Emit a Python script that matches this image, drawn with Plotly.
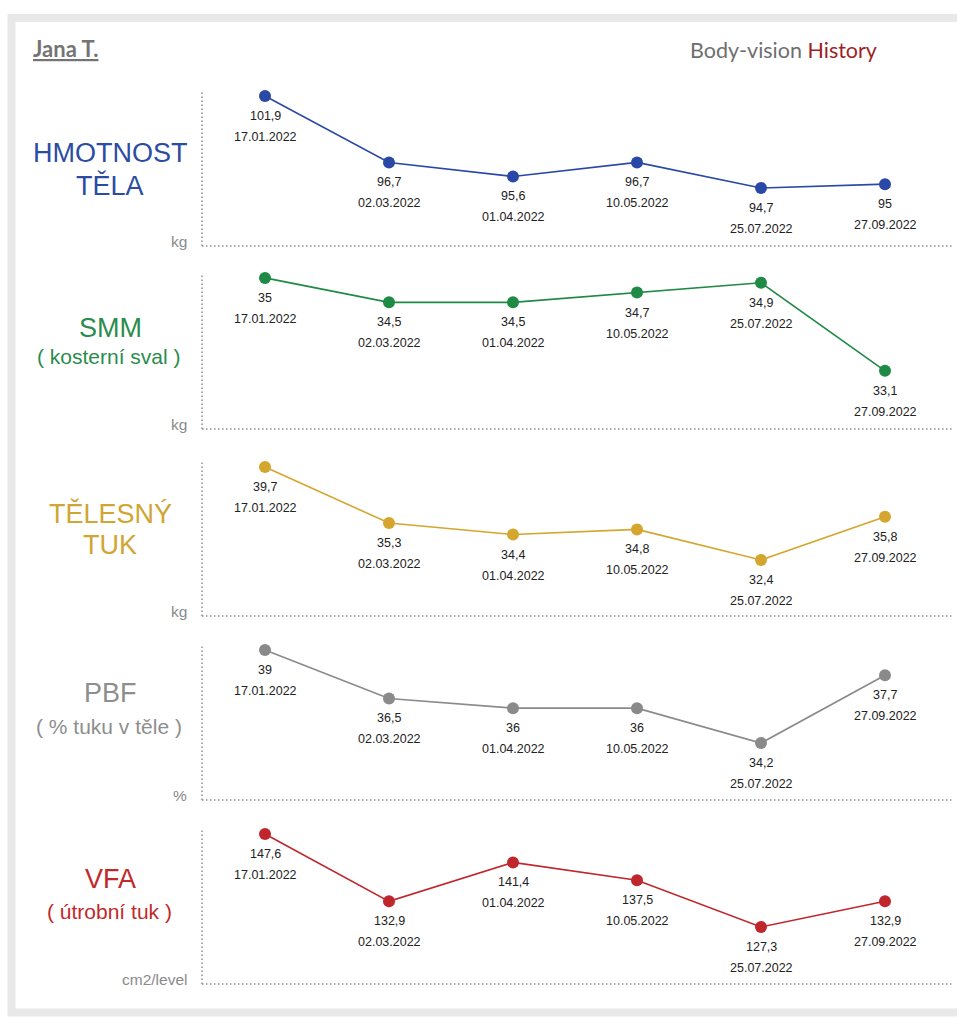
import plotly.graph_objects as go

W, H = 957, 1024

dates = ["17.01.2022", "02.03.2022", "01.04.2022", "10.05.2022", "25.07.2022", "27.09.2022"]
weight = [101.9, 96.7, 95.6, 96.7, 94.7, 95.0]
smm = [35.0, 34.5, 34.5, 34.7, 34.9, 33.1]
body_fat = [39.7, 35.3, 34.4, 34.8, 32.4, 35.8]
pbf = [39.0, 36.5, 36.0, 36.0, 34.2, 37.7]
vfa = [147.6, 132.9, 141.4, 137.5, 127.3, 132.9]

titles = [["HMOTNOST", "TĚLA"], ["SMM"], ["TĚLESNÝ", "TUK"], ["PBF"], ["VFA"]]
subtitles = [None, "( kosterní sval )", None, "( % tuku v těle )", "( útrobní tuk )"]
units = ["kg", "kg", "kg", "%", "cm2/level"]
series = [weight, smm, body_fat, pbf, vfa]

# styling per panel
panels = [
    dict(top=91, bottom=246, yr=[90.16, 102.29], color="#2a48a6", tcolor="#2c4ca3", tys=[153, 185]),
    dict(top=273, bottom=429, yr=[31.91, 35.10], color="#1f8a45", tcolor="#2a8c4d", tys=[328], sy=356),
    dict(top=460, bottom=616, yr=[28.0, 40.25], color="#d4a62e", tcolor="#d1a534", tys=[513, 545]),
    dict(top=645, bottom=800, yr=[31.26, 39.26], color="#8a8a8a", tcolor="#8e8e8e", tys=[693], sy=726),
    dict(top=830, bottom=984, yr=[114.86, 148.47], color="#c0272d", tcolor="#c02a2a", tys=[879], sy=911),
]

AX_L, AX_R = 202, 952      # dotted axis lines
DOM_L, DOM_R = 203, 947    # plotting domain
FONT = "Liberation Sans, Arial"


def px(x):
    return x / W


def py(y):
    return 1 - y / H


def fmt(v):
    return f"{v:g}".replace(".", ",")


fig = go.Figure()
shapes = []
annotations = []

# outer gray frame
shapes.append(dict(type="rect", xref="paper", yref="paper",
                   x0=px(11.5), x1=px(975), y0=py(18), y1=py(1012.5),
                   line=dict(color="#e8e8e8", width=8), fillcolor="rgba(0,0,0,0)", layer="below"))

layout_axes = {}
for i, (p, vals) in enumerate(zip(panels, series)):
    n = i + 1
    xa = "x" if n == 1 else f"x{n}"
    ya = "y" if n == 1 else f"y{n}"
    fig.add_trace(go.Scatter(
        x=list(range(len(vals))), y=vals, xaxis=xa, yaxis=ya,
        mode="lines+markers",
        line=dict(color=p["color"], width=1.6),
        marker=dict(color=p["color"], size=12),
        hoverinfo="skip", showlegend=False, cliponaxis=False,
    ))
    layout_axes[f"xaxis{n}"] = dict(domain=[px(DOM_L), px(DOM_R)], range=[-0.5, len(vals) - 0.5],
                                    visible=False, anchor=ya, fixedrange=True)
    layout_axes[f"yaxis{n}"] = dict(domain=[py(p["bottom"]), py(p["top"])], range=p["yr"],
                                    visible=False, anchor=xa, fixedrange=True)
    # dotted axis lines
    dot = dict(color="#8f8f8f", width=1.5, dash="1.5px,2.5px")
    shapes.append(dict(type="line", xref="paper", yref="paper",
                       x0=px(AX_L), x1=px(AX_L), y0=py(p["bottom"]), y1=py(p["top"]), line=dot))
    shapes.append(dict(type="line", xref="paper", yref="paper",
                       x0=px(AX_L), x1=px(AX_R), y0=py(p["bottom"]), y1=py(p["bottom"]), line=dot))
    # point labels
    for j, v in enumerate(vals):
        annotations.append(dict(x=j, y=v, xref=xa, yref=ya, text=fmt(v), showarrow=False,
                                yshift=-20, yanchor="middle", xanchor="center",
                                font=dict(size=12.5, color="#222222", family=FONT)))
        annotations.append(dict(x=j, y=v, xref=xa, yref=ya, text=dates[j], showarrow=False,
                                yshift=-41, yanchor="middle", xanchor="center",
                                font=dict(size=12.5, color="#222222", family=FONT)))
    # titles
    for t, ty in zip(titles[i], p["tys"]):
        annotations.append(dict(x=px(110), y=py(ty), xref="paper", yref="paper", text=t,
                                showarrow=False, xanchor="center", yanchor="middle",
                                font=dict(size=27, color=p["tcolor"], family=FONT)))
    if subtitles[i]:
        annotations.append(dict(x=px(109), y=py(p["sy"]), xref="paper", yref="paper", text=subtitles[i],
                                showarrow=False, xanchor="center", yanchor="middle",
                                font=dict(size=21, color=p["tcolor"], family=FONT)))
    # unit
    annotations.append(dict(x=px(189), y=py(p["bottom"] - 5), xref="paper", yref="paper", text=units[i],
                            showarrow=False, xanchor="right", yanchor="middle",
                            font=dict(size=15.5, color="#8a8a8a", family=FONT)))

# header
annotations.append(dict(x=px(31), y=py(48), xref="paper", yref="paper", text="<b><u>Jana T.</u></b>",
                        showarrow=False, xanchor="left", yanchor="middle",
                        font=dict(size=22, color="#747474", family="Lato, Liberation Sans")))
annotations.append(dict(x=px(688), y=py(50), xref="paper", yref="paper",
                        text="<span style='color:#6e6e6e'>Body-vision</span> <span style='color:#9e1f25'>History</span>",
                        showarrow=False, xanchor="left", yanchor="middle",
                        font=dict(size=21.5, color="#6e6e6e", family="Lato")))

fig.update_layout(
    width=W, height=H, margin=dict(l=0, r=0, t=0, b=0),
    paper_bgcolor="white", plot_bgcolor="rgba(0,0,0,0)",
    shapes=shapes, annotations=annotations, showlegend=False,
    **layout_axes,
)

fig.write_html("out.html", config={"displayModeBar": False},
               post_script="document.body.style.margin='0';document.body.style.overflow='hidden';")
